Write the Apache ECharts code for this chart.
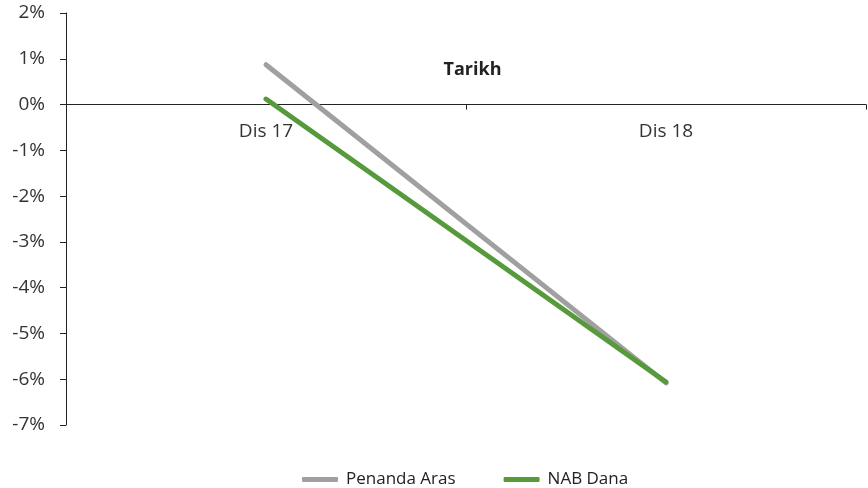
<!DOCTYPE html>
<html>
<head>
<meta charset="utf-8">
<script src="https://cdn.jsdelivr.net/npm/echarts@6/dist/echarts.min.js"></script>
<style>
  html, body { margin: 0; padding: 0; background: #fff; }
  #chart { width: 868px; height: 488px; }
</style>
</head>
<body>
<div id="chart"></div>
<script>
// Tarikh (date) categories
const categories = ['Dis 17', 'Dis 18'];
// Returns in percent
const penandaAras = [0.87, -6.08];
const nabDana = [0.12, -6.06];
// Value axis range and step (percent)
const yMin = -7, yMax = 2, yStep = 1;

const labelFont = '"Open Sans", "Noto Sans", sans-serif';
const chart = echarts.init(document.getElementById('chart'));

const option = {
  animation: false,
  grid: { left: 66, right: 2, top: 13, bottom: 63, containLabel: false },
  legend: {
    top: 466,
    left: 297,
    itemWidth: 36,
    itemHeight: 5,
    itemGap: 48,
    icon: 'roundRect',
    textStyle: { fontFamily: labelFont, fontSize: 17, color: '#222', padding: [0, 0, 0, 3] },
    data: ['Penanda Aras', 'NAB Dana']
  },
  xAxis: {
    type: 'category',
    data: categories,
    boundaryGap: true,
    position: 'bottom',
    name: 'Tarikh',
    nameLocation: 'middle',
    nameGap: -44,
    nameTextStyle: { fontFamily: labelFont, fontSize: 18, fontWeight: 'bold', color: '#222', padding: [0, 0, 0, 13] },
    axisLine: { onZero: false, lineStyle: { color: '#222', width: 1 } },
    axisTick: { show: true, length: 5, lineStyle: { color: '#222' } },
    axisLabel: { fontFamily: labelFont, fontSize: 19, color: '#333', margin: 18 },
    splitLine: { show: false }
  },
  yAxis: {
    type: 'value',
    min: yMin,
    max: yMax,
    interval: yStep,
    axisLine: { show: true, lineStyle: { color: '#222', width: 1 } },
    axisTick: { show: true, length: 6, lineStyle: { color: '#222' } },
    axisLabel: {
      fontFamily: labelFont, fontSize: 19, color: '#333', margin: 21,
      formatter: v => v + '%'
    },
    splitLine: { show: false }
  },
  series: [
    {
      name: 'Penanda Aras',
      type: 'line',
      data: penandaAras,
      symbol: 'none',
      lineStyle: { color: '#a0a0a0', width: 5, cap: 'round' },
      itemStyle: { color: '#a0a0a0' }
    },
    {
      name: 'NAB Dana',
      type: 'line',
      data: nabDana,
      symbol: 'none',
      lineStyle: { color: '#579a3c', width: 5, cap: 'round' },
      itemStyle: { color: '#579a3c' }
    }
  ]
};
chart.setOption(option);

// Move the category axis (line, ticks, labels, name) up to the 0% level
const zeroY = chart.convertToPixel({ yAxisIndex: 0 }, 0);
const bottomY = chart.convertToPixel({ yAxisIndex: 0 }, yMin);
chart.setOption({ xAxis: { offset: zeroY - bottomY } });
</script>
</body>
</html>
